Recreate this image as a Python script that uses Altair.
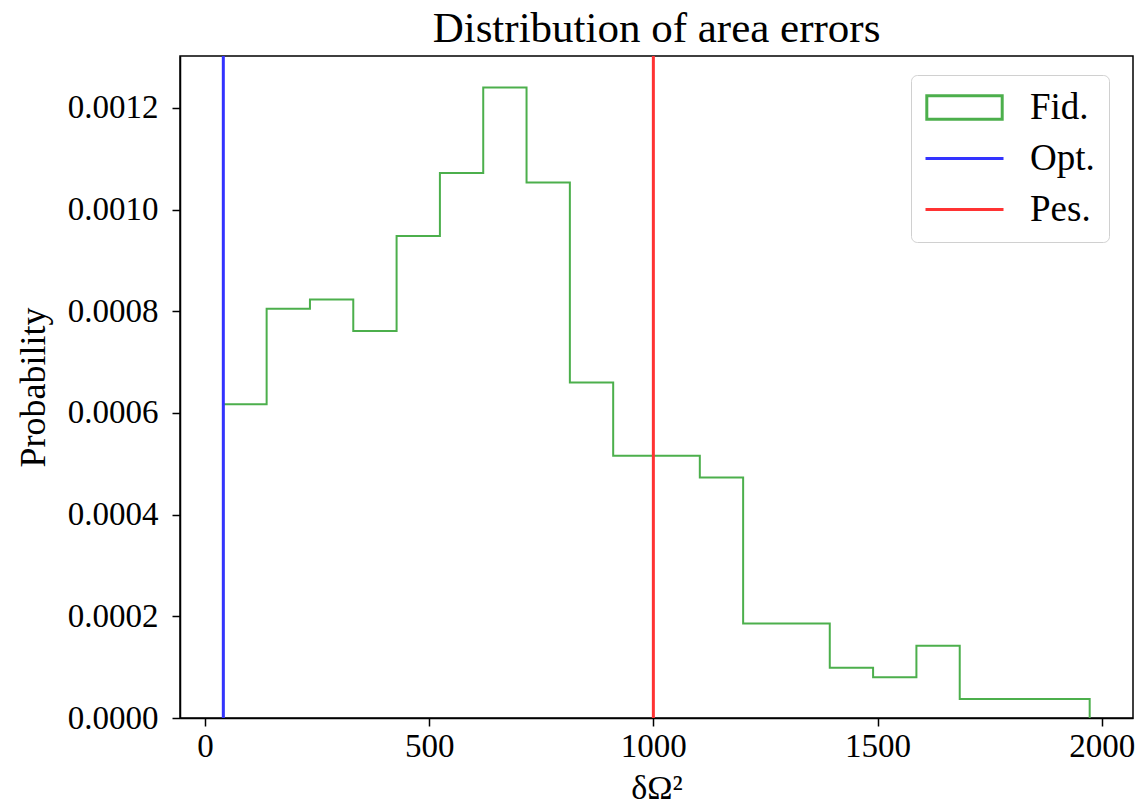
import altair as alt
import pandas as pd

FONT = "Liberation Serif"

# Histogram (step) of area errors, density-normalised
bin_edges = [41, 137.6, 234.2, 330.8, 427.4, 524, 620.6, 717.2, 813.8, 910.4, 1007,
             1103.6, 1200.2, 1296.8, 1393.4, 1490, 1586.6, 1683.2, 1779.8, 1876.4, 1973]
probabilities = [0.000617, 0.000805, 0.000823, 0.000761, 0.000948, 0.001072, 0.00124,
                 0.001053, 0.000660, 0.000516, 0.000516, 0.000473, 0.000186, 0.000186,
                 0.0000990, 0.0000800, 0.000142, 0.0000374, 0.0000374, 0.0000374]

# Vertical reference lines
line_labels = ["Opt.", "Pes."]
line_positions = [41, 1000]

series_names = ["Fid.", "Opt.", "Pes."]
series_colors = ["#4caf4c", "#3333ff", "#ff3333"]
series_symbols = ["M-2.9,-0.9L2.9,-0.9L2.9,0.9L-2.9,0.9Z", "M-3,0L3,0", "M-3,0L3,0"]

x_ticks = [0, 500, 1000, 1500, 2000]
y_ticks = [0.0, 0.0002, 0.0004, 0.0006, 0.0008, 0.0010, 0.0012]

# build step outline table
rows = [{"x": bin_edges[0], "p": 0.0, "order": 0, "series": "Fid."}]
for i, p in enumerate(probabilities):
    rows.append({"x": bin_edges[i], "p": p, "order": i + 1, "series": "Fid."})
rows.append({"x": bin_edges[-1], "p": 0.0, "order": len(probabilities) + 1, "series": "Fid."})
step_df = pd.DataFrame(rows)
rules_df = pd.DataFrame({"x": line_positions, "series": line_labels})
legend_df = pd.DataFrame({"series": series_names})

x_scale = alt.Scale(domain=[-55.6, 2069.6], nice=False, zero=False)
y_scale = alt.Scale(domain=[0, 0.001302], nice=False)

color_scale = alt.Scale(domain=series_names, range=series_colors)
shape_scale = alt.Scale(domain=series_names, range=series_symbols)

legend = alt.Legend(
    title=None,
    orient="none",
    legendX=731,
    legendY=19,
    labelFont=FONT,
    labelFontSize=37,
    labelColor="black",
    symbolSize=676,
    symbolStrokeWidth=3,
    symbolFillColor="transparent",
    symbolOpacity=1,
    symbolOffset=21,
    labelOffset=47,
    rowPadding=13,
    padding=14,
    strokeColor="#d0d0d0",
    fillColor="white",
    cornerRadius=6,
)

x_axis = alt.Axis(
    values=x_ticks, format="d", title="δΩ²", grid=False,
    labelFont=FONT, labelFontSize=33, labelColor="black",
    titleFont=FONT, titleFontSize=34, titleFontWeight="normal", titleColor="black",
    tickColor="black", tickSize=8, tickWidth=1.5, domainColor="black", domainWidth=1.5,
    labelPadding=4, titlePadding=8,
)
y_axis = alt.Axis(
    values=y_ticks, format=".4f", title="Probability", grid=False,
    labelFont=FONT, labelFontSize=33, labelColor="black",
    titleFont=FONT, titleFontSize=36, titleFontWeight="normal", titleColor="black",
    tickColor="black", tickSize=8, tickWidth=1.5, domainColor="black", domainWidth=1.5,
    labelPadding=14, titlePadding=15,
)

step = alt.Chart(step_df).mark_line(interpolate="step-after", strokeWidth=2).encode(
    x=alt.X("x:Q", scale=x_scale, axis=x_axis),
    y=alt.Y("p:Q", scale=y_scale, axis=y_axis),
    order="order:Q",
    color=alt.Color("series:N", scale=color_scale, legend=legend),
)

rules = alt.Chart(rules_df).mark_rule(strokeWidth=3).encode(
    x=alt.X("x:Q", scale=x_scale),
    color=alt.Color("series:N", scale=color_scale, legend=legend),
)

legend_layer = alt.Chart(legend_df).mark_point(opacity=0, filled=False).encode(
    color=alt.Color("series:N", scale=color_scale, legend=legend),
    shape=alt.Shape("series:N", scale=shape_scale, legend=legend),
)

chart = alt.layer(step, rules, legend_layer).properties(
    width=953,
    height=662,
    background="white",
    autosize=alt.AutoSizeParams(type="none"),
    padding={"left": 180, "top": 56, "right": 6, "bottom": 89},
    title=alt.TitleParams("Distribution of area errors", font=FONT, fontSize=43,
                          fontWeight="normal", color="black", offset=4),
).configure_view(stroke="black", strokeWidth=1.5)

chart.save("out.html", embed_options={"renderer": "svg", "actions": False})
